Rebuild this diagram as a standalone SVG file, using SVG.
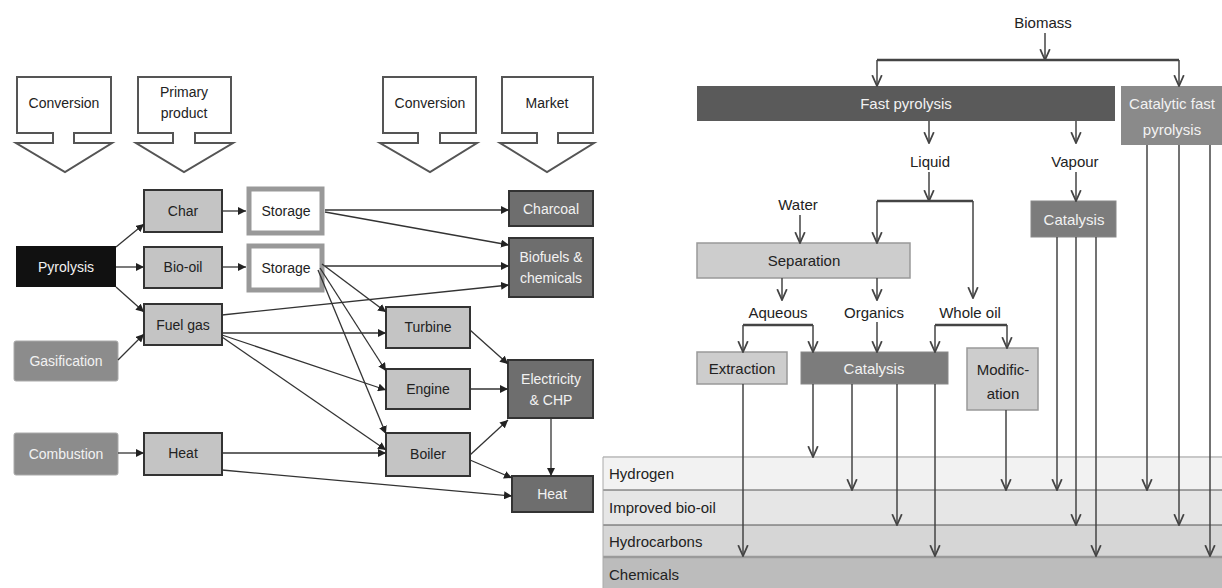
<svg xmlns="http://www.w3.org/2000/svg" width="1222" height="588" viewBox="0 0 1222 588">
<style>
text{font-family:"Liberation Sans",Arial,sans-serif;text-anchor:middle}
.l{font-size:14px}
.r{font-size:15px}
.dk{fill:#222}
.wt{fill:#f2f2f2}
.hdr{fill:#fff;stroke:#555;stroke-width:2}
.gbox{fill:#c4c4c4;stroke:#333;stroke-width:2}
.mbox{fill:#6e6e6e;stroke:#333;stroke-width:2}
.sbox{fill:#8c8c8c;stroke:#aaa;stroke-width:1}
.stor{fill:#fff;stroke:#999;stroke-width:5}
.lc path{fill:none;stroke:#333;stroke-width:1.3;marker-end:url(#ah)}
.rc path{fill:none;stroke:#444;stroke-width:1.5}
.rc .a{marker-end:url(#av)}
.rc .br{stroke-width:2.5}
.lite{fill:#cdcdcd;stroke:#999;stroke-width:1.5}
.cat{fill:#7c7c7c;stroke:#888;stroke-width:1}
</style>
<defs>
<marker id="ah" viewBox="0 0 10 10" refX="10" refY="5" markerWidth="8" markerHeight="8" markerUnits="userSpaceOnUse" orient="auto"><path d="M0,0 L10,5 L0,10 Z" fill="#222"/></marker>
<marker id="av" viewBox="0 0 10 10" refX="9" refY="5" markerWidth="12" markerHeight="12" markerUnits="userSpaceOnUse" orient="auto"><path d="M0,1 L9,5 L0,9" fill="none" stroke="#444" stroke-width="1.5"/></marker>
</defs>
<rect width="1222" height="588" fill="#fff"/>

<!-- header block arrows -->
<g id="hdr-conversion1"><path class="hdr" d="M17,77 L111,77 L111,133 L74,133 L74,143 L112,143 L65,172 L16,143 L53,143 L53,133 L17,133 Z"/><text class="l dk" x="64" y="108">Conversion</text></g>
<g id="hdr-primary"><path class="hdr" d="M138,77 L231,77 L231,133 L195,133 L195,143 L233,143 L184,172 L136,143 L173,143 L173,133 L138,133 Z"/><text class="l dk" x="184" y="97">Primary</text><text class="l dk" x="184" y="118">product</text></g>
<g id="hdr-conversion2"><path class="hdr" d="M383,77 L476,77 L476,133 L440,133 L440,143 L477,143 L430,172 L380,143 L418,143 L418,133 L383,133 Z"/><text class="l dk" x="430" y="108">Conversion</text></g>
<g id="hdr-market"><path class="hdr" d="M502,77 L593,77 L593,133 L558,133 L558,143 L594,143 L547,172 L500,143 L537,143 L537,133 L502,133 Z"/><text class="l dk" x="547" y="108">Market</text></g>

<!-- left nodes -->
<g id="pyrolysis"><rect x="16" y="246" width="100" height="41" fill="#111"/><text class="l wt" x="66" y="272">Pyrolysis</text></g>
<g id="gasification"><rect class="sbox" x="14" y="341" width="104" height="40" rx="2"/><text class="l wt" x="66" y="366">Gasification</text></g>
<g id="combustion"><rect class="sbox" x="14" y="433" width="104" height="42" rx="2"/><text class="l wt" x="66" y="459">Combustion</text></g>
<g id="char"><rect class="gbox" x="144" y="190" width="78" height="42"/><text class="l dk" x="183" y="216">Char</text></g>
<g id="biooil"><rect class="gbox" x="144" y="247" width="78" height="41"/><text class="l dk" x="183" y="272">Bio-oil</text></g>
<g id="fuelgas"><rect class="gbox" x="144" y="304" width="78" height="41"/><text class="l dk" x="183" y="330">Fuel gas</text></g>
<g id="heat-l"><rect class="gbox" x="144" y="433" width="78" height="42"/><text class="l dk" x="183" y="458">Heat</text></g>
<g id="storage1"><rect class="stor" x="249" y="189" width="73" height="44"/><text class="l dk" x="286" y="216">Storage</text></g>
<g id="storage2"><rect class="stor" x="249" y="246" width="73" height="44"/><text class="l dk" x="286" y="273">Storage</text></g>
<g id="turbine"><rect class="gbox" x="386" y="307" width="84" height="41"/><text class="l dk" x="428" y="332">Turbine</text></g>
<g id="engine"><rect class="gbox" x="386" y="369" width="84" height="40"/><text class="l dk" x="428" y="394">Engine</text></g>
<g id="boiler"><rect class="gbox" x="386" y="433" width="84" height="43"/><text class="l dk" x="428" y="459">Boiler</text></g>
<g id="charcoal"><rect class="mbox" x="509" y="191" width="84" height="35"/><text class="l wt" x="551" y="214">Charcoal</text></g>
<g id="biofuels"><rect class="mbox" x="509" y="238" width="84" height="59"/><text class="l wt" x="551" y="262">Biofuels &amp;</text><text class="l wt" x="551" y="283">chemicals</text></g>
<g id="electricity"><rect class="mbox" x="508" y="360" width="85" height="58"/><text class="l wt" x="551" y="384">Electricity</text><text class="l wt" x="551" y="405">&amp; CHP</text></g>
<g id="heat-r"><rect class="mbox" x="512" y="476" width="81" height="36"/><text class="l wt" x="552" y="499">Heat</text></g>

<g id="left-connectors" class="lc">
<path d="M116,247 L144,224"/>
<path d="M116,267 L144,267"/>
<path d="M116,287 L144,312"/>
<path d="M222,211 L246,211"/>
<path d="M222,267 L246,267"/>
<path d="M118,360 L144,334"/>
<path d="M118,453 L144,453"/>
<path d="M325,210 L509,210"/>
<path d="M325,212 L509,245"/>
<path d="M325,266 L509,266"/>
<path d="M222,315 L509,285"/>
<path d="M322,264 L386,312"/>
<path d="M320,268 L386,371"/>
<path d="M318,270 L386,434"/>
<path d="M222,333 L386,333"/>
<path d="M222,335 L386,390"/>
<path d="M222,337 L386,450"/>
<path d="M222,453 L386,453"/>
<path d="M222,470 L512,496"/>
<path d="M470,330 L508,364"/>
<path d="M470,389 L508,389"/>
<path d="M470,455 L508,420"/>
<path d="M470,460 L512,478"/>
<path d="M551,418 L551,476"/>
</g>

<!-- right diagram bands -->
<g id="bands">
<rect x="603" y="457" width="619" height="33" fill="#f2f2f2"/>
<rect x="603" y="490" width="619" height="35" fill="#e6e6e6"/>
<rect x="603" y="525" width="619" height="32" fill="#d6d6d6"/>
<rect x="603" y="557" width="619" height="31" fill="#bcbcbc"/>
<line x1="603" y1="457" x2="1222" y2="457" stroke="#c8c8c8" stroke-width="2"/>
<line x1="603" y1="490" x2="1222" y2="490" stroke="#555" stroke-width="1.2"/>
<line x1="603" y1="525" x2="1222" y2="525" stroke="#555" stroke-width="1.2"/>
<line x1="603" y1="557" x2="1222" y2="557" stroke="#9a9a9a" stroke-width="2.5"/>
<line x1="603" y1="457" x2="603" y2="588" stroke="#aaa" stroke-width="1"/>
<text class="r dk" x="609" y="479" style="text-anchor:start">Hydrogen</text>
<text class="r dk" x="609" y="513" style="text-anchor:start">Improved bio-oil</text>
<text class="r dk" x="609" y="547" style="text-anchor:start">Hydrocarbons</text>
<text class="r dk" x="609" y="580" style="text-anchor:start">Chemicals</text>
</g>

<g id="biomass"><text class="r dk" x="1043" y="28">Biomass</text></g>
<g id="fastpyro"><rect x="697" y="86" width="418" height="35" fill="#5a5a5a"/><text class="r wt" x="906" y="109">Fast pyrolysis</text></g>
<g id="catfastpyro"><rect x="1121" y="86" width="105" height="59" fill="#8a8a8a"/><text class="r wt" x="1172" y="109">Catalytic fast</text><text class="r wt" x="1172" y="135">pyrolysis</text></g>
<g id="liquid"><text class="r dk" x="930" y="167">Liquid</text></g>
<g id="vapour"><text class="r dk" x="1075" y="167">Vapour</text></g>
<g id="water"><text class="r dk" x="798" y="210">Water</text></g>
<g id="catalysis-v"><rect class="cat" x="1031" y="201" width="85" height="36"/><text class="r wt" x="1074" y="225">Catalysis</text></g>
<g id="separation"><rect class="lite" x="697" y="243" width="213" height="35"/><text class="r dk" x="804" y="266">Separation</text></g>
<g id="aqueous"><text class="r dk" x="778" y="318">Aqueous</text></g>
<g id="organics"><text class="r dk" x="874" y="318">Organics</text></g>
<g id="wholeoil"><text class="r dk" x="970" y="318">Whole oil</text></g>
<g id="extraction"><rect class="lite" x="697" y="352" width="90" height="32"/><text class="r dk" x="742" y="374">Extraction</text></g>
<g id="catalysis-m"><rect class="cat" x="801" y="352" width="147" height="32"/><text class="r wt" x="874" y="374">Catalysis</text></g>
<g id="modification"><rect class="lite" x="967" y="348" width="71" height="62"/><text class="r dk" x="1003" y="375">Modific-</text><text class="r dk" x="1003" y="399">ation</text></g>

<g id="right-connectors" class="rc">
<path class="a" d="M1045,33 L1045,60"/>
<path class="br" d="M877,60 L1179,60"/>
<path class="a" d="M877,60 L877,86"/>
<path class="a" d="M1179,60 L1179,86"/>
<path class="a" d="M929,121 L929,143"/>
<path class="a" d="M1076,121 L1076,143"/>
<path class="a" d="M929,172 L929,201"/>
<path class="br" d="M877,201 L973,201"/>
<path class="a" d="M877,201 L877,243"/>
<path class="a" d="M973,201 L973,298"/>
<path class="a" d="M1076,172 L1076,201"/>
<path class="a" d="M800,215 L800,243"/>
<path class="a" d="M782,278 L782,300"/>
<path class="a" d="M877,278 L877,300"/>
<path class="br" d="M743,325 L813,325"/>
<path class="a" d="M743,325 L743,352"/>
<path class="a" d="M813,325 L813,352"/>
<path class="a" d="M877,322 L877,352"/>
<path class="br" d="M935,325 L1007,325"/>
<path class="a" d="M935,325 L935,352"/>
<path class="a" d="M1007,325 L1007,348"/>
<path class="a" d="M743,384 L743,556"/>
<path class="a" d="M813,384 L813,457"/>
<path class="a" d="M852,384 L852,490"/>
<path class="a" d="M897,384 L897,525"/>
<path class="a" d="M935,384 L935,556"/>
<path class="a" d="M1006,410 L1006,490"/>
<path class="a" d="M1057,237 L1057,490"/>
<path class="a" d="M1076,237 L1076,525"/>
<path class="a" d="M1096,237 L1096,556"/>
<path class="a" d="M1147,145 L1147,490"/>
<path class="a" d="M1179,145 L1179,525"/>
<path class="a" d="M1210,145 L1210,556"/>
</g>
</svg>
